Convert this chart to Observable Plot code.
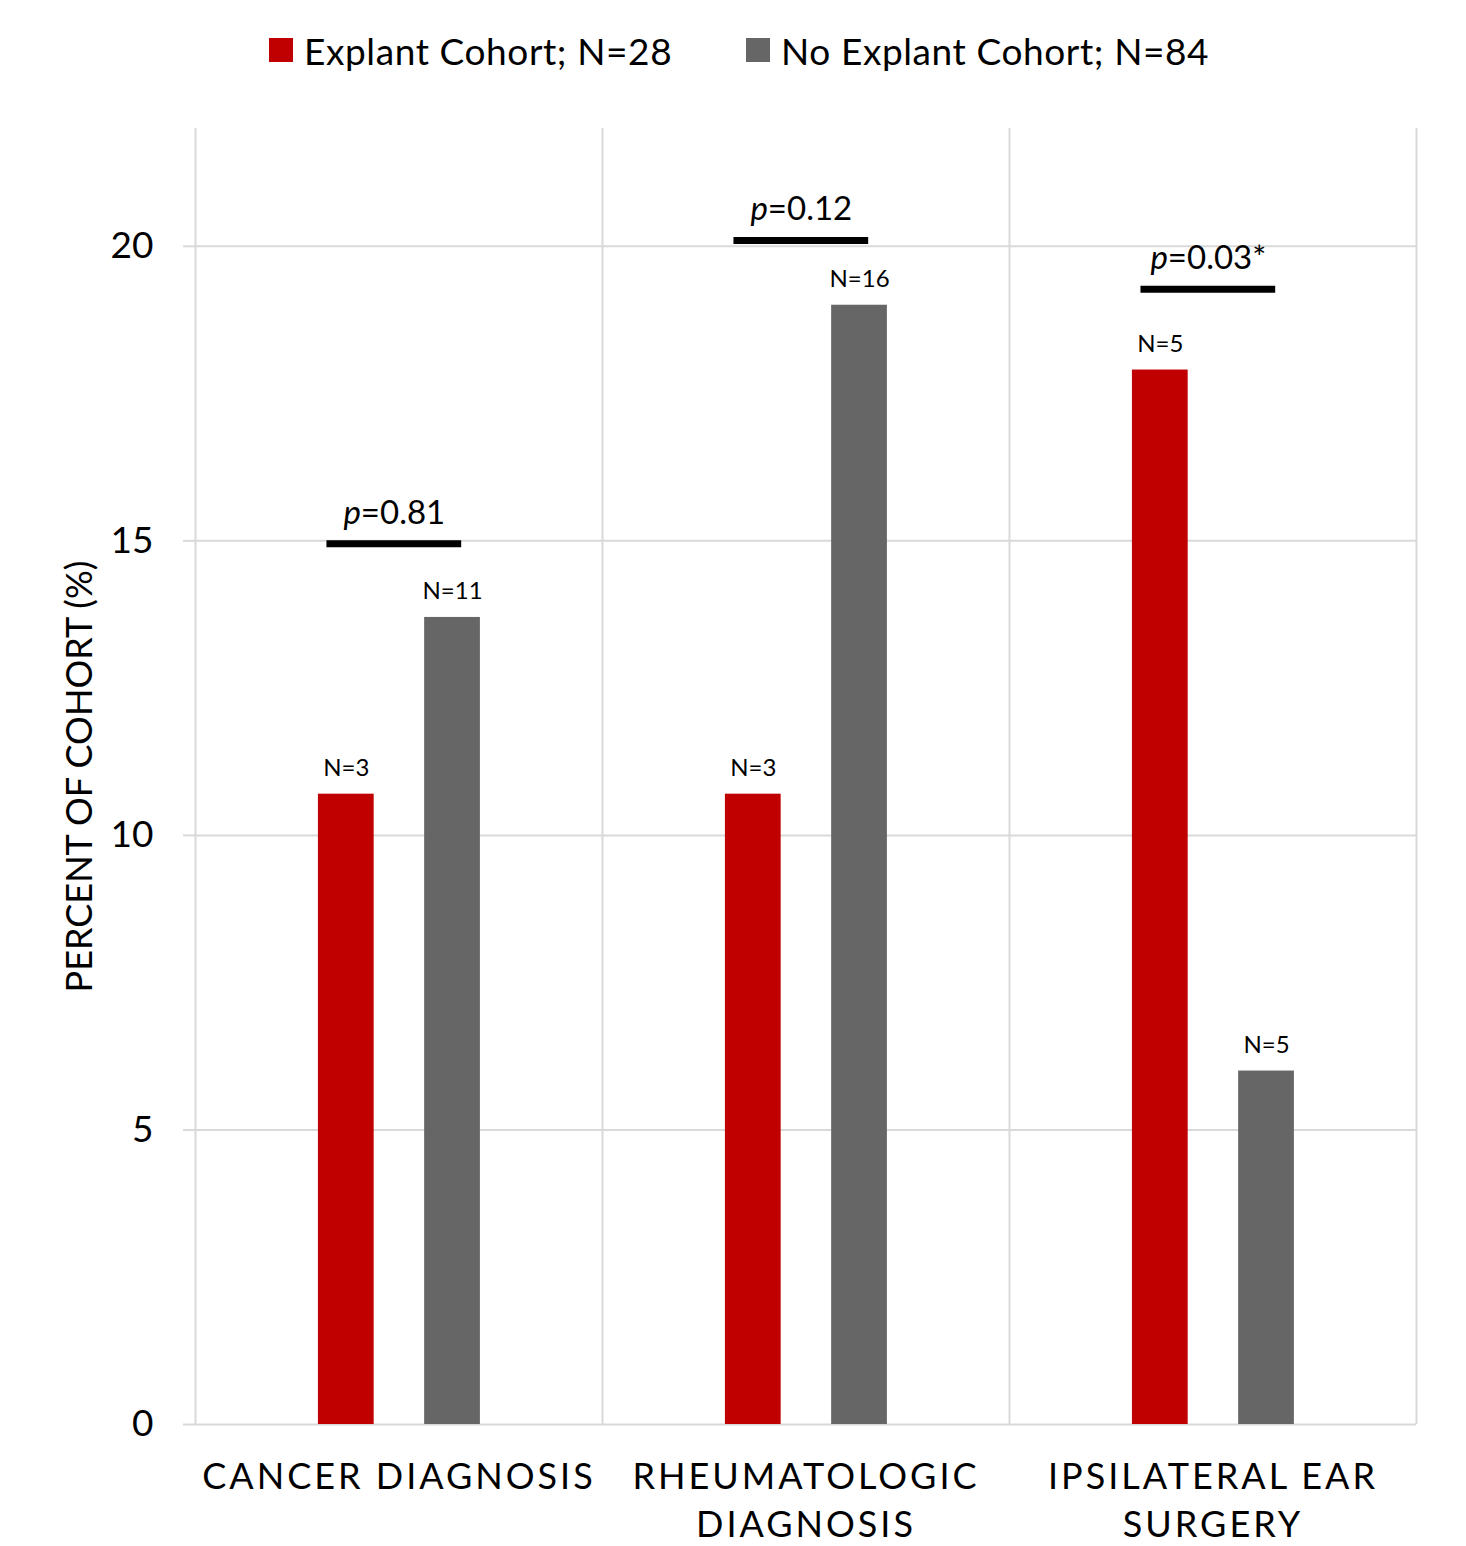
<!DOCTYPE html>
<html><head><meta charset="utf-8">
<script src="https://cdn.jsdelivr.net/npm/d3@7"></script>
<script src="https://cdn.jsdelivr.net/npm/@observablehq/plot@0.6"></script>
<style>
html,body{margin:0;padding:0;background:#fff;}
body{width:1466px;height:1546px;overflow:hidden;font-family:Lato,sans-serif;}
#legend{position:relative;height:100px;}
.item{position:absolute;top:26px;height:48px;display:flex;align-items:center;font-size:37px;letter-spacing:0.6px;color:#000;white-space:nowrap;}
.sw{width:24px;height:24px;margin-right:11px;flex:none;}
#chart svg g[aria-label="x-axis tick label"]{letter-spacing:3px;}
</style></head><body>
<div id="legend"></div><div id="chart"></div>
<script>
// ---- data ----
const categories = ["Cancer diagnosis", "Rheumatologic diagnosis", "Ipsilateral ear surgery"];
const tickLabels = ["CANCER DIAGNOSIS", "RHEUMATOLOGIC\nDIAGNOSIS", "IPSILATERAL EAR\nSURGERY"];
const seriesNames = ["Explant Cohort; N=28", "No Explant Cohort; N=84"];
const seriesColors = ["#C00000", "#666666"];
const explantPct = [10.7, 10.7, 17.9];
const noExplantPct = [13.7, 19.0, 6.0];
const explantN = [3, 3, 5];
const noExplantN = [11, 16, 5];
const pValues = ["0.81", "0.12", "0.03*"];
const bracketLevel = [14.95, 20.1, 19.27];
const yTicks = [0, 5, 10, 15, 20];
const yLabel = "PERCENT OF COHORT (%)";

// ---- legend ----
const legend = document.getElementById("legend");
const legendLeft = [269, 746];
seriesNames.forEach((name, k) => {
  const it = document.createElement("div");
  it.className = "item";
  it.style.left = legendLeft[k] + "px";
  const sw = document.createElement("span");
  sw.className = "sw";
  sw.style.background = seriesColors[k];
  const tx = document.createElement("span");
  tx.textContent = name;
  it.appendChild(sw); it.appendChild(tx);
  legend.appendChild(it);
});

// ---- table ----
const rows = [];
categories.forEach((c, i) => {
  rows.push({i, s: 0, value: explantPct[i], n: explantN[i]});
  rows.push({i, s: 1, value: noExplantPct[i], n: noExplantN[i]});
});
const brackets = categories.map((c, i) => ({i, level: bracketLevel[i], p: pValues[i]}));

// layout within each category band (fractions of the band)
const BAR_START = [0.302, 0.563], BAR_W = 0.137;
const BR_L = 0.323, BR_R = 0.654;
const bx1 = d => d.i + BAR_START[d.s];
const bx2 = d => d.i + BAR_START[d.s] + BAR_W;
const bxm = d => d.i + BAR_START[d.s] + BAR_W / 2;
const grid = "#d9d9d9";

const chart = Plot.plot({
  width: 1466, height: 1446,
  marginTop: 28, marginBottom: 122, marginLeft: 195, marginRight: 50,
  style: {fontFamily: "Lato, sans-serif", background: "#fff", color: "#000", overflow: "visible"},
  x: {type: "linear", domain: [0, categories.length]},
  y: {domain: [0, 22]},
  color: {type: "ordinal", domain: [0, 1], range: seriesColors},
  marks: [
    Plot.ruleY(yTicks, {stroke: grid, strokeWidth: 2}),
    Plot.ruleX(d3.range(categories.length + 1), {y1: () => 0, y2: () => 22, stroke: grid, strokeWidth: 2}),
    Plot.axisY(yTicks, {tickSize: 12, tickPadding: 30, fontSize: 37, stroke: grid, strokeWidth: 2, fill: "#000",
      tickFormat: d3.format("d"), label: null}),
    Plot.axisX(categories.map((c, i) => i + 0.5), {tickSize: 0, tickPadding: 31, fontSize: 36, lineHeight: 1.32,
      tickFormat: t => tickLabels[Math.floor(t)], fill: "#000", label: null}),
    Plot.rectY(rows, {x1: bx1, x2: bx2, y1: () => 0, y2: "value", fill: "s"}),
    Plot.text(rows, {x: bxm, y: "value", text: d => `N=${d.n}`, lineAnchor: "bottom", dy: -18, fontSize: 24, fill: "#000"}),
    Plot.ruleY(brackets, {y: "level", x1: d => d.i + BR_L, x2: d => d.i + BR_R, stroke: "#000", strokeWidth: 7}),
    Plot.text(brackets, {x: d => d.i + (BR_L + BR_R) / 2, y: "level", text: d => `p=${d.p}`, lineAnchor: "bottom", dy: -20, fontSize: 33, fill: "#000"}),
    Plot.text([yLabel], {text: d => d, frameAnchor: "left", textAnchor: "middle", lineAnchor: "middle", rotate: -90, dx: -115, fontSize: 36, fill: "#000"})
  ]
});
document.getElementById("chart").appendChild(chart);

// italic "p" in the p-value labels
d3.select(chart).selectAll("text").filter(function () {
  return /^p=/.test(this.textContent) && !this.querySelector("tspan");
}).each(function () {
  const t = this.textContent;
  this.textContent = "";
  const s = d3.select(this);
  s.append("tspan").attr("font-style", "italic").style("font-style", "italic").text(t.slice(0, 1));
  s.append("tspan").text(t.slice(1));
});
</script></body></html>
